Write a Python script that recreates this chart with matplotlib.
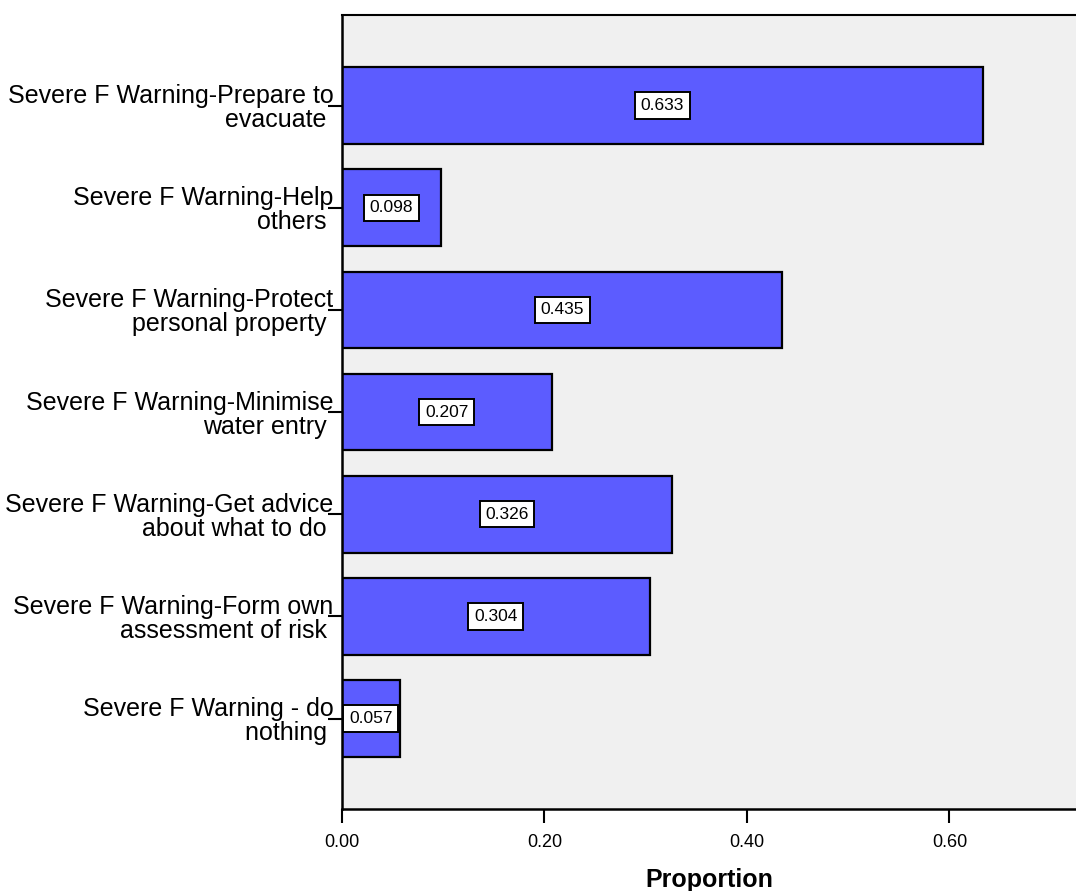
import matplotlib
matplotlib.use("Agg")
import matplotlib.pyplot as plt

# ── Data ───────────────────────────────────────────────────────────────────────
categories = [
    "Severe F Warning-Prepare to\nevacuate ",
    "Severe F Warning-Help\nothers ",
    "Severe F Warning-Protect\npersonal property ",
    "Severe F Warning-Minimise\nwater entry ",
    "Severe F Warning-Get advice\nabout what to do ",
    "Severe F Warning-Form own\nassessment of risk ",
    "Severe F Warning - do\nnothing ",
]
proportions = [0.633, 0.098, 0.435, 0.207, 0.326, 0.304, 0.057]
xticks = [0.0, 0.2, 0.4, 0.6]

plt.rcParams["font.family"] = ["Liberation Sans", "DejaVu Sans"]

fig = plt.figure(figsize=(10.76, 8.91), dpi=100)
ax = fig.add_axes([0.3178, 0.092, 0.6822, 0.891])
ax.set_facecolor("#F0F0F0")

ypos = list(range(len(categories)))
ax.barh(ypos, proportions, height=0.75, color="#5C5CFF",
        edgecolor="black", linewidth=1.6, zorder=2)

# value boxes centred in each bar
for y, v in zip(ypos, proportions):
    ax.text(v / 2, y, f"{v:.3f}", ha="center", va="center", fontsize=12.5,
            zorder=3,
            bbox=dict(boxstyle="square,pad=0.33", fc="white", ec="black", lw=1.4))

ax.set_xlim(0, 0.725)
ax.set_ylim(6.886, -0.886)
ax.set_xticks(xticks)
ax.set_xticklabels([f"{t:.2f}" for t in xticks], fontsize=13)
ax.set_yticks(ypos)
ax.set_yticklabels(categories, fontsize=18, linespacing=1.0)

ax.tick_params(axis="y", length=10, width=1.5, pad=-4)
ax.tick_params(axis="x", length=10, width=1.5, pad=8)
ax.set_xlabel("Proportion", fontsize=18, fontweight="bold", labelpad=12)

for s in ["left", "bottom"]:
    ax.spines[s].set_linewidth(1.8)
ax.spines["top"].set_linewidth(1.5)
ax.spines["right"].set_visible(False)

fig.savefig("out.png", dpi=100)
